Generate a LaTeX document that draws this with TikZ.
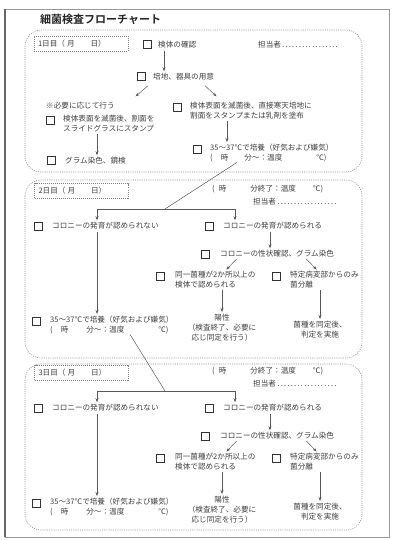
\documentclass[tikz,border=0pt]{standalone}
\usepackage{fontspec}
\setmainfont{Noto Sans CJK JP}[BoldFont={Noto Sans CJK JP Bold}]
\usetikzlibrary{arrows.meta}
\tikzset{
 txt/.style={inner sep=0pt, text=black!75, font=\fontsize{7.6}{10}\selectfont, align=left},
 ctr/.style={txt, align=center},
 cbox/.style={draw=black!80, line width=1pt, minimum size=8pt, inner sep=0pt},
 datebox/.style={draw=black!50, dash pattern=on 1pt off 1pt, text width=86pt, inner xsep=4pt, minimum height=15pt, text=black!75, font=\fontsize{7.6}{10}\selectfont, align=left},
 sec/.style={draw=black!45, dash pattern=on 1pt off 1.2pt, rounded corners=16pt, line width=0.6pt},
 arr/.style={draw=black!65, line width=0.5pt, -{Stealth[length=4pt,width=3pt]}, shorten <=2pt, shorten >=2pt},
 ln/.style={draw=black!65, line width=0.5pt},
}
\newcommand\dayblock[3]{%
\begin{scope}[yshift=-#2pt]
 \node[datebox] (#1date) at (81.5,191) {#3日目（\hspace{2pt}月\hspace{16pt}日）};
 \node[txt, anchor=west] (#1tm) at (212,189) {(\hspace{4pt}時\hspace{24pt}分終了：温度\hspace{17pt}℃)};
 \node[txt, anchor=west] (#1tt) at (253,202) {担当者\hbox to 62pt{\dotfill}};
 \coordinate (#1j) at (165,209);
 \node[cbox] (#1ca) at (38,226) {};
 \node[txt, anchor=west] (#1a) at (52,226) {コロニーの発育が認められない};
 \node[cbox] (#1cb) at (209,226) {};
 \node[txt, anchor=west] (#1b) at (223,226) {コロニーの発育が認められる};
 \draw[arr, shorten <=0pt] (#1j) -| ([xshift=45pt]#1a.north west);
 \draw[arr, shorten <=0pt] (#1j) -| ([xshift=12pt]#1b.north west);
 \node[cbox] (#1cc) at (205,254) {};
 \node[txt, anchor=west] (#1c) at (220,254) {コロニーの性状確認、グラム染色};
 \draw[arr] ([xshift=47pt]#1b.south west) -- ([xshift=50pt]#1c.north west);
 \node[cbox] (#1cd) at (160,276) {};
 \node[txt, anchor=north west] (#1d) at (175,271) {同一菌種が2か所以上の\\検体で認められる};
 \node[cbox] (#1ce) at (276,276) {};
 \node[txt, anchor=north west] (#1e) at (290,271) {特定病変部からのみ\\菌分離};
 \draw[arr] ([xshift=18pt]#1c.south west) -- ([xshift=50pt]#1d.north west);
 \draw[arr] ([xshift=85pt]#1c.south west) -- ([xshift=28pt]#1e.north west);
 \node[cbox] (#1cf) at (36,321) {};
 \node[txt, anchor=north west] (#1f) at (50,316) {35～37℃で培養（好気および嫌気）\\(\hspace{8pt}時\hspace{18pt}分～：温度\hspace{34pt}℃)};
 \draw[arr] ([xshift=45pt]#1a.south west) -- ([xshift=47pt]#1f.north west);
 \node[ctr, anchor=north] (#1g) at (222,314) {陽性\\（検査終了、必要に\\応じ同定を行う）};
 \node[ctr, anchor=north] (#1h) at (320,321) {菌種を同定後、\\判定を実施};
 \draw[arr] ([xshift=47pt]#1d.south west) -- (#1g.north);
 \draw[arr] ([xshift=30pt]#1e.south west) -- (#1h.north);
\end{scope}}
\begin{document}
\begin{tikzpicture}[x=1pt, y=-1pt]
\useasboundingbox (0,0) rectangle (392,540);
\fill[white] (0,0) rectangle (392,540);
% page frame
\draw[black!40, line width=0.5pt] (5,9) rectangle (389,537);
\draw[black!60, line width=1.6pt] (5,9) -- (5,537);
% title
\node[anchor=west, inner sep=0pt, text=black!85, font=\bfseries\fontsize{11}{13}\selectfont] (title) at (40,19) {細菌検査フローチャート};
% section frames
\draw[sec] (25,30) rectangle (362,172);
\draw[sec] (25,180) rectangle (362,358);
\draw[sec] (25,364) rectangle (362,530);
% section 1
\node[datebox] (d1) at (81,44) {1日目（\hspace{2pt}月\hspace{16pt}日）};
\node[cbox] (c1) at (147,45) {};
\node[txt, anchor=west] (n1) at (158,45) {検体の確認};
\node[txt, anchor=west] (p1) at (258,45) {担当者\hbox to 58pt{\dotfill}};
\node[cbox] (c2) at (141,77) {};
\node[txt, anchor=west] (n2) at (153,77) {培地、器具の用意};
\draw[arr] ([xshift=6pt]n1.south west) -- ([xshift=11pt]n2.north west);
\node[txt, anchor=west] (note) at (46,106) {※必要に応じて行う};
\node[cbox] (c3) at (50,121) {};
\node[txt, anchor=north west] (n3) at (63,115) {検体表面を滅菌後、割面を\\スライドグラスにスタンプ};
\node[cbox] (c4) at (177,108) {};
\node[txt, anchor=north west] (n4) at (190,102) {検体表面を滅菌後、直接寒天培地に\\割面をスタンプまたは乳剤を塗布};
\draw[arr, shorten <=0pt] ([xshift=-5pt,yshift=-5pt]n2.south west) -- ++(-14,12);
\draw[arr, shorten <=0pt] ([xshift=52pt,yshift=-5pt]n2.south west) -- ++(13,12);
\node[cbox] (c5) at (51,161) {};
\node[txt, anchor=west] (n5) at (65,161) {グラム染色、鏡検};
\draw[arr] ([xshift=34pt]n3.south west) -- ([xshift=32pt]n5.north west);
\node[cbox] (c6) at (197,150) {};
\node[txt, anchor=north west] (n6) at (210,144) {35～37℃で培養（好気および嫌気）\\(\hspace{8pt}時\hspace{16pt}分～：温度\hspace{34pt}℃)};
\draw[arr] ([xshift=37pt]n4.south west) -- ([xshift=17pt]n6.north west);
% sections 2 and 3
\dayblock{s2}{0}{2}
\dayblock{s3}{182}{3}
\draw[ln] ([xshift=27pt]n6.south west) -- (s2j);
\draw[ln] ([xshift=80pt]s2f.south west) -- (s3j);
\end{tikzpicture}
\end{document}
